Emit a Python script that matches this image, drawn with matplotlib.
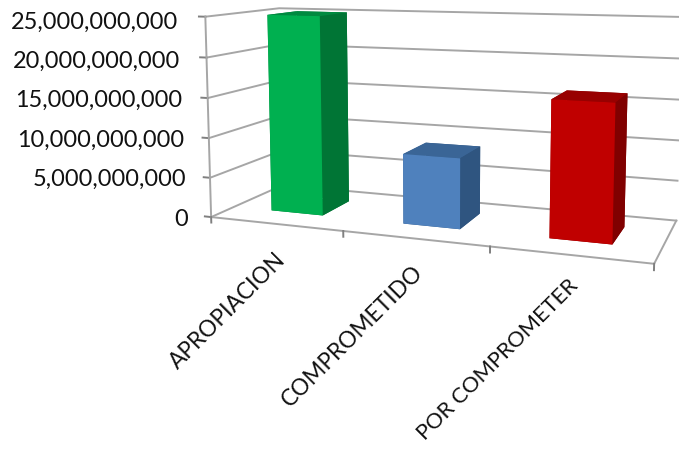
import numpy as np
import matplotlib
matplotlib.use("Agg")
import matplotlib.pyplot as plt

W_PX, H_PX = 679, 452

categories = ["APROPIACION", "COMPROMETIDO", "POR COMPROMETER"]
values = [25.0e9, 8.6e9, 16.2e9]
y_ticks = [0, 5e9, 10e9, 15e9, 20e9, 25e9]
y_labels = ["0", "5,000,000,000", "10,000,000,000", "15,000,000,000",
            "20,000,000,000", "25,000,000,000"]
front_cols = ["#00B050", "#4F81BD", "#C00000"]
side_cols = ["#007535", "#2F5580", "#800000"]
top_cols = ["#008A40", "#3A6596", "#980000"]
label_anchor_px = [(275, 249), (412, 262), (568, 276)]
label_sizes = [16.3, 16.3, 15.7]

ZMAX = y_ticks[-1]
XMAX = len(categories)

# camera calibration: wall corners and axis ticks of the 3D box -> pixels
world = np.array([
    (0, 0, 0), (0, 0, .2), (0, 0, .4), (0, 0, .6), (0, 0, .8), (0, 0, 1),
    (1, 0, 0), (2, 0, 0), (3, 0, 0),
    (0, 1, 0), (0, 1, 1), (3, 1, 0), (3, 1, 1),
], float)
pixel = np.array([
    (212, 218), (210.5, 179), (209, 138.5), (207.5, 99), (206, 59), (204, 19),
    (343, 231), (490, 247), (655, 265),
    (281.5, 187), (281, 8), (676, 222), (682, 18),
], float)

rows = []
for (x, y, z), (u, v) in zip(world, pixel):
    X = [x, y, z, 1]
    rows.append(X + [0, 0, 0, 0] + [-u * c for c in X])
    rows.append([0, 0, 0, 0] + X + [-v * c for c in X])
P = np.linalg.svd(np.array(rows))[2][-1].reshape(3, 4)
P = P / P[2, 3]
P[:, 2] /= ZMAX  # z column now takes raw values

fig = plt.figure(figsize=(W_PX / 100, H_PX / 100), dpi=100, facecolor="white")
ax = fig.add_axes([0, 0, 1, 1], projection="3d")
ax.apply_aspect = lambda position=None: None
ax.set_position([0, 0, 1, 1])
ax.set_axis_off()
ax.patch.set_alpha(0)
ax.set_proj_type("ortho")


def get_proj():
    to_view = ax.transData.inverted().get_matrix()
    flip = np.array([[1, 0, 0], [0, -1, H_PX], [0, 0, 1]], float)
    Q = to_view @ flip @ P
    return np.array([Q[0], Q[1], [0, 1, 0, -2], Q[2]])


ax.get_proj = get_proj

GRID = "#A6A6A6"
lw = 1.4
for t in y_ticks:
    ax.plot([0, 0, XMAX], [0, 1, 1], [t, t, t], color=GRID, lw=lw)
    ax.plot([-0.05, 0], [0, 0], [t, t], color="#808080", lw=lw)
ax.plot([0, 0], [0, 0], [0, ZMAX], color=GRID, lw=lw)
ax.plot([0, XMAX, XMAX], [0, 0, 1], [0, 0, 0], color=GRID, lw=lw)
for k in range(XMAX + 1):
    ax.plot([k, k], [0, 0], [-0.7e9, 0], color="#808080", lw=lw)

# bars: 0.4 wide, centred in each category slot and in the depth
xpos = np.arange(len(categories)) + 0.3
ypos = np.full(len(categories), 0.30)
faces = []
for f, s, t in zip(front_cols, side_cols, top_cols):
    # order of bar3d faces: -z, +z, -y, +y, -x, +x
    faces += [s, t, f, s, t, s]
ax.bar3d(xpos, ypos, np.zeros(len(categories)), 0.4, 0.42, values,
         color=faces, shade=False, edgecolor="none", linewidth=0)

ax.set_xlim(0, XMAX)
ax.set_ylim(0, 1)
ax.set_zlim(0, ZMAX)

FONT = "Lato"
for t, lab in zip(y_ticks, y_labels):
    py = np.interp(t, [0, ZMAX], [219, 22])
    px = np.interp(t, [0, ZMAX], [188, 178])
    fig.text(px / W_PX, 1 - py / H_PX, lab, ha="right", va="center",
             fontsize=16.9, family=FONT, color="#111111")
for cat, (px, py), fs in zip(categories, label_anchor_px, label_sizes):
    fig.text(px / W_PX, 1 - py / H_PX, cat, ha="right", va="top",
             rotation=45, rotation_mode="anchor",
             fontsize=fs, family=FONT, color="#111111")

fig.savefig("out.png", dpi=100)
